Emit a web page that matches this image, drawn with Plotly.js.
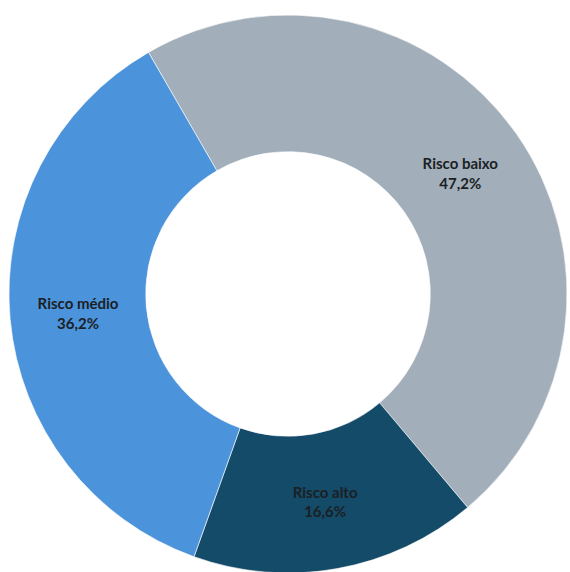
<!DOCTYPE html>
<html>
<head>
<meta charset="utf-8">
<script src="https://cdn.plot.ly/plotly-3.0.1.min.js"></script>
<style>
html,body{margin:0;padding:0;overflow:hidden;background:#fff;}
#chart{width:570px;height:590px;}
</style>
</head>
<body>
<div id="chart"></div>
<script>
var categories = ["Risco baixo", "Risco alto", "Risco médio"];
var values = [47.2, 16.6, 36.2];
var valueLabels = ["47,2%", "16,6%", "36,2%"];
var colors = ["#A2AEBA", "#134B68", "#4B93DB"];

var texts = categories.map(function(c, i){ return "<b>" + c + "<br>" + valueLabels[i] + "</b>"; });

var trace = {
  type: "pie",
  labels: categories,
  values: values,
  text: texts,
  textinfo: "text",
  textposition: "inside",
  insidetextorientation: "horizontal",
  hole: 0.51,
  sort: false,
  direction: "clockwise",
  rotation: -30,
  marker: {colors: colors, line: {color: "rgba(255,255,255,0.6)", width: 1}},
  textfont: {family: "Lato, 'Open Sans', sans-serif", size: 15, color: "#1b1f24"},
  hoverinfo: "none",
  showlegend: false
};

var layout = {
  width: 570,
  height: 590,
  margin: {l: 9, r: 3, t: 15, b: 17},
  paper_bgcolor: "#ffffff",
  plot_bgcolor: "#ffffff",
  showlegend: false
};

Plotly.newPlot("chart", [trace], layout, {displayModeBar: false, staticPlot: true});
</script>
</body>
</html>
